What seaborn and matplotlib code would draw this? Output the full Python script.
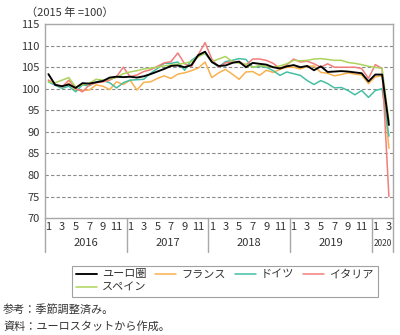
import numpy as np
import pandas as pd
import matplotlib
matplotlib.use("Agg")
import matplotlib.pyplot as plt
import seaborn as sns
from matplotlib.transforms import blended_transform_factory

sns.set_theme(style="white")
plt.rcParams["font.family"] = ["Noto Sans CJK JP", "DejaVu Sans"]

# Monthly retail trade volume index (2015 = 100), Jan 2016 - Mar 2020
years = ["2016", "2017", "2018", "2019", "2020"]
months_per_year = [12, 12, 12, 12, 3]
month_labels = ["1", "3", "5", "7", "9", "11"]

euro_area = [103.4, 100.9, 100.6, 101.0, 100.2, 101.3, 101.2, 101.5, 101.8, 102.6, 102.8, 102.7,
             102.8, 102.6, 102.9, 103.4, 104.0, 104.6, 105.3, 105.4, 105.0, 105.5, 107.8, 108.6,
             106.2, 105.3, 105.4, 106.0, 106.3, 105.0, 106.0, 105.8, 105.6, 105.0, 104.7, 105.2,
             105.5, 105.0, 105.3, 104.3, 105.2, 103.9, 104.0, 104.1, 104.0, 103.8, 103.6, 101.7,
             103.3, 103.3, 91.6]
france = [102.0, 100.9, 100.5, 101.3, 99.7, 99.6, 99.7, 100.9, 100.6, 99.8, 101.6, 101.0,
          102.0, 99.7, 101.5, 101.6, 102.4, 103.0, 102.4, 103.4, 103.7, 104.2, 104.8, 106.2,
          102.6, 103.7, 104.5, 103.4, 102.2, 103.9, 104.0, 103.1, 104.3, 103.8, 104.5, 105.0,
          105.0, 104.6, 105.2, 105.3, 103.8, 103.6, 103.0, 103.3, 103.7, 103.4, 103.2, 101.2,
          102.8, 103.0, 86.2]
germany = [101.6, 100.8, 100.1, 100.6, 99.3, 100.9, 100.7, 101.6, 101.9, 101.4, 100.2, 101.4,
           102.0, 102.1, 102.2, 103.6, 104.7, 105.9, 105.9, 106.2, 104.3, 106.6, 107.7, 108.2,
           106.3, 105.0, 106.3, 106.6, 107.0, 106.8, 105.0, 105.2, 105.0, 104.2, 103.1, 103.9,
           103.5, 103.1, 101.9, 101.0, 101.9, 101.2, 100.2, 100.3, 99.6, 98.6, 99.6, 98.0,
           99.6, 100.0, 89.0]
italy = [102.0, 101.1, 100.4, 102.0, 100.1, 99.3, 100.9, 101.4, 101.6, 102.0, 102.8, 105.0,
         102.8, 103.2, 104.0, 104.4, 105.2, 106.0, 106.3, 108.3, 105.8, 105.1, 107.9, 110.7,
         106.9, 105.0, 106.0, 106.3, 106.3, 105.5, 106.9, 106.9, 106.6, 105.9, 104.7, 105.5,
         106.9, 106.2, 106.4, 105.8, 105.0, 105.8, 105.0, 105.0, 105.0, 105.0, 104.7, 102.4,
         105.6, 104.7, 75.0]
spain = [101.6, 101.4, 102.0, 102.6, 100.4, 100.9, 101.3, 102.2, 102.0, 102.3, 102.6, 103.5,
         103.9, 104.2, 104.6, 104.8, 105.0, 105.3, 105.5, 105.7, 105.9, 106.3, 107.4, 108.3,
         106.3, 106.9, 107.5, 106.3, 105.9, 105.7, 105.0, 105.4, 105.2, 105.0, 105.3, 105.8,
         106.6, 106.5, 106.6, 106.9, 107.0, 106.8, 106.6, 106.6, 106.1, 105.9, 105.6, 105.2,
         105.0, 104.7, 92.5]

series_names = ["ユーロ圏", "フランス", "ドイツ", "イタリア", "スペイン"]
series_values = [euro_area, france, germany, italy, spain]
colors = ["#000000", "#F9B14E", "#45BFA3", "#F27D7A", "#ADD35C"]

n = len(euro_area)
frames = [pd.DataFrame({"month": np.arange(n), "value": v, "series": name})
          for name, v in zip(series_names, series_values)]
df = pd.concat(frames, ignore_index=True)

fig = plt.figure(figsize=(4.0, 3.35), dpi=100)
ax = fig.add_axes([0.1125, 0.349, 0.87, 0.579])

palette = dict(zip(series_names, colors))
widths = {name: 1.1 for name in series_names}
widths["ユーロ圏"] = 1.35

# colored series first, euro area on top
for name in series_names[1:] + series_names[:1]:
    sub = df[df["series"] == name]
    sns.lineplot(data=sub, x="month", y="value", color=palette[name],
                 lw=widths[name], ax=ax, label=name,
                 zorder=4 if name == "ユーロ圏" else 3)

ax.set_xlim(-0.5, 50.6)
ax.set_ylim(70, 115)
ax.set_yticks(np.arange(70, 116, 5))
ax.tick_params(axis="y", length=0, pad=4, labelsize=8, labelcolor="#333333")
ax.set_xticks([])
ax.set_xlabel("")
ax.set_ylabel("")
for y in range(75, 115, 5):
    ax.axhline(y, color="#8a8a8a", lw=0.8, ls=(0, (3, 2)), zorder=1)

for side in ["left", "top", "right", "bottom"]:
    ax.spines[side].set_color("#a8a8a8")
    ax.spines[side].set_linewidth(1.0)

# month and year labels with year separators below the axis
trans = blended_transform_factory(ax.transData, ax.transAxes)
start = 0
bounds = [-0.5]
for yr, cnt in zip(years, months_per_year):
    labels = month_labels if cnt == 12 else month_labels[:2]
    for lab in labels:
        m = start + int(lab) - 1
        ax.text(m, -0.045, lab, transform=trans, ha="center", va="center",
                fontsize=8, color="#333333")
    end = start + cnt - 0.5 if cnt == 12 else 50.6
    center = (start - 0.5 + end) / 2
    ax.text(center, -0.13, yr, transform=trans, ha="center", va="center",
            fontsize=8 if cnt == 12 else 6, color="#333333")
    bounds.append(end)
    start += cnt
for b in bounds:
    ax.plot([b, b], [0, -0.175], transform=trans, color="#a8a8a8", lw=1.0,
            clip_on=False)

fig.text(0.066, 0.963, "（2015 年 =100）", ha="left", va="center", fontsize=8,
         color="#333333")

# legend filled row by row: ユーロ圏 フランス ドイツ イタリア / スペイン
handles, labels = ax.get_legend_handles_labels()
legend_order = ["ユーロ圏", "スペイン", "フランス", "ドイツ", "イタリア"]
idx = [labels.index(nm) for nm in legend_order]
ax.get_legend().remove()
leg = fig.legend([handles[i] for i in idx], [labels[i] for i in idx],
                 loc="upper left", bbox_to_anchor=(0.166, 0.224), ncol=4,
                 fontsize=8, frameon=True, fancybox=False, handlelength=1.9,
                 handletextpad=0.45, columnspacing=0.8, borderpad=0.35,
                 labelspacing=0.3)
leg.get_frame().set_edgecolor("#8a8a8a")
leg.get_frame().set_linewidth(0.8)
for t in leg.get_texts():
    t.set_color("#333333")

fig.text(0.008, 0.075, "参考：季節調整済み。", ha="left", va="center", fontsize=8,
         color="#333333")
fig.text(0.008, 0.027, "資料：ユーロスタットから作成。", ha="left", va="center",
         fontsize=8, color="#333333")

fig.savefig("out.png", dpi=100)
